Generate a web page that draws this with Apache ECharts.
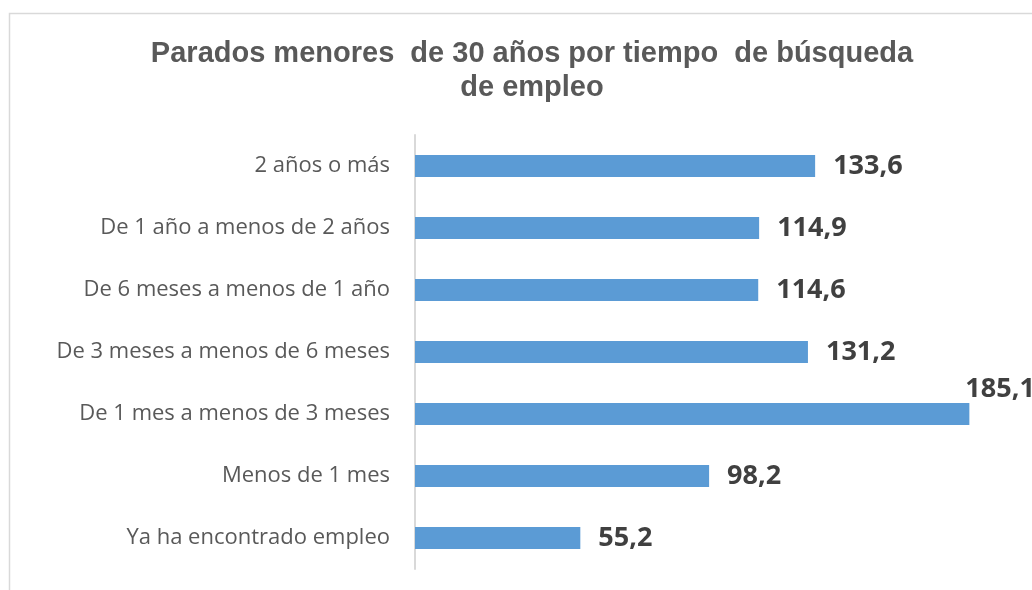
<!DOCTYPE html>
<html>
<head>
<meta charset="utf-8">
<script src="https://cdn.jsdelivr.net/npm/echarts@6/dist/echarts.min.js"></script>
<style>
  html, body { margin: 0; padding: 0; background: #fff; }
  #barChart { width: 1032px; height: 590px; }
</style>
</head>
<body>
<div id="barChart"></div>
<script>
// datos (de arriba a abajo)
var categorias = [
  '2 años o más',
  'De 1 año a menos de 2 años',
  'De 6 meses a menos de 1 año',
  'De 3 meses a menos de 6 meses',
  'De 1 mes a menos de 3 meses',
  'Menos de 1 mes',
  'Ya ha encontrado empleo'
]
var parados = [133.6, 114.9, 114.6, 131.2, 185.1, 98.2, 55.2]

var chart = echarts.init(document.getElementById('barChart'))

// la barra mas larga lleva la etiqueta encima
var maxVal = Math.max.apply(null, parados)
var serieData = parados.map(function (v) {
  if (v === maxVal) {
    return {
      value: v,
      label: {
        position: ['100%', '50%'],
        align: 'left',
        verticalAlign: 'middle',
        offset: [-4, -25]
      }
    }
  }
  return v
})

chart.setOption({
  animation: false,
  title: {
    text: 'Parados menores  de 30 años por tiempo  de búsqueda\nde empleo',
    left: 527,
    top: 32,
    textAlign: 'center',
    textStyle: {
      fontFamily: 'Liberation Sans',
      fontWeight: 'bold',
      fontSize: 29,
      lineHeight: 34,
      color: '#595959'
    }
  },
  graphic: [{
    type: 'rect',
    shape: { x: 9.5, y: 13.5, width: 1200, height: 800 },
    style: { fill: 'none', stroke: '#d9d9d9', lineWidth: 1.5 },
    silent: true
  }],
  grid: {
    left: 415,
    top: 135,
    bottom: 21,
    right: 18
  },
  xAxis: {
    type: 'value',
    min: 0,
    max: 200,
    show: false,
    splitLine: { show: false }
  },
  yAxis: {
    type: 'category',
    data: categorias,
    inverse: true,
    axisTick: { show: false },
    axisLine: {
      lineStyle: { color: '#d9d9d9', width: 2 }
    },
    axisLabel: {
      margin: 25,
      fontFamily: 'Open Sans',
      fontSize: 22,
      color: '#595959'
    }
  },
  series: [{
    type: 'bar',
    data: serieData,
    barWidth: 22,
    itemStyle: { color: '#5b9bd5' },
    label: {
      show: true,
      position: 'right',
      distance: 18,
      fontFamily: 'Open Sans',
      fontWeight: 'bold',
      fontSize: 27,
      color: '#404040',
      formatter: function (p) {
        return p.value.toFixed(1).replace('.', ',')
      }
    }
  }]
})
window.addEventListener('resize', chart.resize)
</script>
</body>
</html>
